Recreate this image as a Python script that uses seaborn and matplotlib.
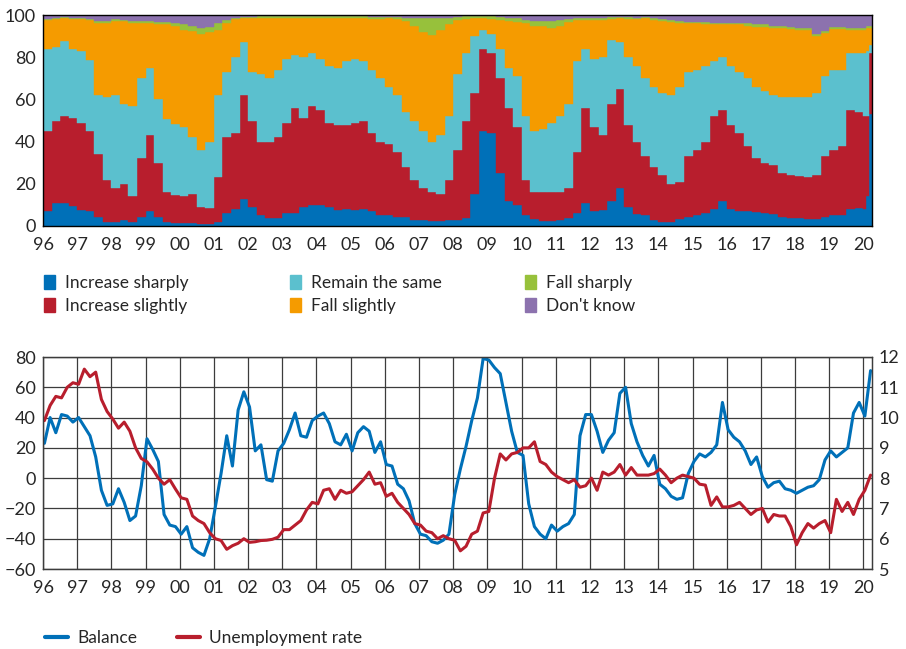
import numpy as np
import pandas as pd
import matplotlib
matplotlib.use("Agg")
import matplotlib.pyplot as plt
from matplotlib.patches import Patch
from matplotlib.lines import Line2D
import seaborn as sns

# ── data ──────────────────────────────────────────────────────────────────────
# Expected unemployment, share of answers in %
# quarterly 1996Q1-2019Q4, then monthly Jan-Mar 2020
increase_sharply = [
    7, 11, 11, 9.5, 7.5, 7, 4.5, 2, 2, 3, 2, 4.5, 7, 4.5, 2, 1.5,
    1.5, 1.5, 1, 1, 2, 6, 8, 13, 9, 5, 4, 4, 6, 6, 9, 10,
    10, 9, 7.5, 8, 7.5, 8, 7, 5, 5, 4.5, 4.5, 3, 3, 2.5, 2.5, 3,
    3, 4, 15, 45, 44, 25, 12, 10, 5, 3.5, 2.5, 2.5, 3, 4, 6, 11,
    7, 7.5, 12, 18, 9, 5.5, 5, 3, 2, 2, 3.5, 4.5, 5, 6, 8, 12,
    8, 7, 7, 6.5, 6, 5.5, 4.5, 4, 4, 3.5, 3.5, 4.5, 5, 5, 8, 8.5,
    8, 14, 53,
]
increase_slightly = [
    38, 39, 41, 41.5, 41.5, 38, 29.5, 20, 16, 17, 12, 27.5, 36, 25.5, 14, 13,
    12.5, 13.5, 8, 7.5, 21, 36, 36, 49, 41, 35, 36, 38, 43, 50, 42, 47,
    45, 40, 40.5, 40, 41.5, 42, 37, 35, 34, 30.5, 23.5, 19, 15, 13.5, 12.5, 19,
    33, 46, 48, 39, 38, 45, 44, 37, 17, 12.5, 13.5, 13.5, 13, 14, 29, 45,
    40, 35.5, 46, 47, 39, 34.5, 28, 25, 22, 18, 17.5, 28.5, 31, 34, 44, 43,
    40, 37, 31, 25.5, 24, 23.5, 20.5, 20, 19.5, 19.5, 20.5, 28.5, 31, 33, 47, 45.5,
    44, 38, 29,
]
remain_same = [
    39, 35, 35.5, 33, 34, 33.5, 28, 39, 44, 38, 43, 38, 32, 30, 34.5, 34,
    33, 27, 27, 31.5, 39, 31, 36, 25, 23, 32, 30, 32, 30, 25, 29, 25,
    24, 27, 27, 30, 30, 28, 30, 30, 27, 27, 26, 28, 27, 24, 28, 30,
    36, 32, 27, 9, 9, 14, 19, 24, 30, 29, 30, 33, 36, 40, 43, 28,
    32, 37, 30, 22, 32, 36, 37, 38, 39, 42, 45, 40, 38, 36, 26, 25,
    28, 29, 32, 34, 34, 33, 36, 37, 37.5, 38, 39, 38, 38, 36, 27, 28,
    30, 31, 4,
]
fall_slightly = [
    13.5, 13, 11, 14, 15, 19, 34, 35, 35, 39, 39, 26, 21, 35.5, 45, 46.5,
    46, 50.5, 55, 52, 31, 23, 18, 11.5, 25.5, 26.5, 28.7, 24.5, 19.5, 17.5, 18.5, 16.5,
    19.5, 22.5, 23.5, 20.5, 19.5, 20.5, 24, 28, 32.5, 36, 43, 45, 47, 50.5, 50, 43.5,
    25.5, 16, 8.5, 5.5, 7, 13.5, 22, 25.5, 44, 50, 48.8, 45, 43, 38.5, 19.5, 13.8,
    18.8, 17.8, 10.3, 11.5, 18, 22, 28.5, 31.5, 34, 34.5, 30, 23, 22, 19.8, 17.5, 15.5,
    19.5, 22.5, 25, 28.5, 30.5, 32, 33, 32.5, 32, 32, 27, 20.5, 19.5, 19.5, 11, 11,
    11, 11, 8,
]
fall_sharply = [
    0.5, 0.5, 0.5, 0.5, 0.5, 0.5, 1, 1, 1, 0.5, 1, 1, 1, 1, 1, 1,
    2.5, 2.5, 3, 2.5, 3, 1.5, 0.5, 0.5, 0.7, 0.8, 0.6, 0.8, 0.8, 0.8, 0.8, 0.8,
    0.8, 0.8, 0.8, 0.8, 0.8, 0.8, 1, 1, 0.5, 1, 1.7, 3.5, 6.5, 8, 5.5, 3.2,
    1.5, 1.3, 1, 1, 1.3, 1.5, 1.5, 2, 1.5, 2, 2.2, 3, 2.5, 1.5, 1, 0.7,
    0.7, 0.7, 0.7, 0.7, 1, 0.8, 0.5, 1, 1, 1, 1, 0.8, 0.5, 0.7, 0.7, 0.8,
    0.8, 0.8, 1, 1, 1, 1, 1, 1, 1, 1, 1, 1, 1, 1, 1, 1,
    1, 1, 1,
]
dont_know = [
    2, 1.5, 1, 1.5, 1.5, 2, 3, 3, 2, 2.5, 3, 3, 3, 3.5, 3.5, 4,
    4.5, 5, 6, 5.5, 4, 2.5, 1.5, 1, 0.8, 0.7, 0.7, 0.7, 0.7, 0.7, 0.7, 0.7,
    0.7, 0.7, 0.7, 0.7, 0.7, 0.7, 1, 1, 1, 1, 1.3, 1.5, 1.5, 1.5, 1.5, 1.3,
    1, 0.7, 0.5, 0.5, 0.7, 1, 1.5, 1.5, 2.5, 3, 3, 3, 2.5, 2, 1.5, 1.5,
    1.5, 1.5, 1, 0.8, 1, 1.2, 1, 1.5, 2, 2.5, 3, 3.2, 3.5, 3.5, 3.8, 3.7,
    3.7, 3.7, 4, 4.5, 4.5, 5, 5, 5.5, 6, 6, 9, 7.5, 5.5, 5.5, 6, 6,
    6, 5, 5,
]

# Balance (%) and unemployment rate (%), every second month Jan 1996 - Mar 2020
balance = [
    23, 40, 30, 42, 41, 37, 40, 34, 28, 14, -8, -18,
    -17, -7, -16, -28, -25, -5, 26, 19, 11, -24, -31, -32,
    -37, -32, -46, -49, -51, -40, -19, 3, 28, 8, 45, 57,
    47, 18, 22, -1, -2, 18, 23, 32, 43, 28, 27, 38,
    41, 43, 36, 24, 22, 29, 18, 30, 34, 31, 17, 24,
    9, 8, -4, -7, -15, -30, -37, -38, -42, -43, -41, -37,
    -11, 6, 21, 38, 53, 79, 78, 73, 69, 50, 31, 17,
    15, -17, -32, -37, -40, -31, -35, -32, -30, -24, 28, 42,
    42, 31, 17, 25, 30, 56, 60, 36, 24, 15, 8, 15,
    -4, -7, -12, -14, -13, 3, 11, 16, 14, 17, 22, 50,
    32, 27, 24, 18, 9, 14, 1, -6, -3, -2, -7, -8,
    -10, -8, -6, -5, -1, 12, 18, 14, 17, 20, 43, 50,
    41, 71,
]
unemployment = [
    9.9, 10.4, 10.7, 10.65, 11.0, 11.15, 11.1, 11.6, 11.35, 11.5, 10.6, 10.2,
    9.95, 9.65, 9.85, 9.55, 9.0, 8.65, 8.54, 8.3, 8.0, 7.8, 7.95, 7.64,
    7.35, 7.3, 6.75, 6.6, 6.5, 6.2, 6.0, 5.94, 5.65, 5.77, 5.85, 6.0,
    5.88, 5.9, 5.94, 5.95, 5.98, 6.05, 6.3, 6.3, 6.45, 6.6, 6.95, 7.2,
    7.15, 7.6, 7.65, 7.3, 7.6, 7.5, 7.55, 7.75, 7.95, 8.2, 7.8, 7.85,
    7.4, 7.5, 7.2, 7.0, 6.8, 6.5, 6.45, 6.25, 6.2, 6.0, 6.1, 6.0,
    5.95, 5.6, 5.75, 6.15, 6.25, 6.85, 6.9, 8.0, 8.8, 8.6, 8.8, 8.85,
    9.0, 9.0, 9.2, 8.55, 8.45, 8.2, 8.05, 7.95, 7.85, 7.95, 7.7, 7.75,
    8.0, 7.6, 8.2, 8.1, 8.2, 8.45, 8.1, 8.35, 8.1, 8.1, 8.1, 8.15,
    8.3, 8.1, 7.85, 8.0, 8.1, 8.05, 8.0, 7.8, 7.77, 7.1, 7.38, 7.05,
    7.05, 7.1, 7.2, 7.0, 6.8, 6.95, 7.0, 6.55, 6.8, 6.75, 6.75, 6.4,
    5.8, 6.2, 6.5, 6.35, 6.5, 6.6, 6.2, 7.3, 6.9, 7.2, 6.8, 7.3,
    7.6, 8.1,
]

year_labels = [f"{y % 100:02d}" for y in range(1996, 2021)]

CATEGORIES = [
    ("Increase sharply", increase_sharply, "#0070b8"),
    ("Increase slightly", increase_slightly, "#b81e2d"),
    ("Remain the same", remain_same, "#5bc0ce"),
    ("Fall slightly", fall_slightly, "#f59b00"),
    ("Fall sharply", fall_sharply, "#97c13b"),
    ("Don't know", dont_know, "#8c72ae"),
]
BLUE = "#0070b8"
RED = "#b81e2d"
GRID = "#3c3c3c"
TICK_SIZE = 13
LEGEND_SIZE = 12.5

sns.set_style("white")
plt.rcParams["font.family"] = ["Lato", "DejaVu Sans"]
plt.rcParams["font.size"] = TICK_SIZE


def to_year(t):
    return t.year + (t.month - 1) / 12


# period starts for the stacked bars
starts = list(pd.period_range("1996Q1", "2019Q4", freq="Q").to_timestamp())
starts += list(pd.date_range("2020-01-01", "2020-03-01", freq="MS"))
bar_x = np.array([to_year(t) for t in starts])
bar_w = np.diff(np.append(bar_x, 2020.25))

line_t = pd.date_range("1996-01-01", "2020-03-01", freq="2MS")
line_x = np.array([to_year(t) + 1 / 24 for t in line_t])

years = np.arange(1996, 2021)
W, H = 906, 649
fig = plt.figure(figsize=(W / 100, H / 100), dpi=100)

# ── top panel: stacked survey shares ──────────────────────────────────────────
ax = fig.add_axes([43 / W, 1 - 226 / H, 829 / W, 211 / H])
bottom = np.zeros(len(bar_x))
for name, vals, color in CATEGORIES:
    vals = np.array(vals, dtype=float)
    ax.bar(bar_x, vals, width=bar_w, bottom=bottom, align="edge",
           color=color, edgecolor=color, linewidth=0.3)
    bottom += vals
ax.set_xlim(1996, 2020.25)
ax.set_ylim(0, 100)
ax.set_yticks(range(0, 101, 20))
ax.set_xticks(years)
ax.set_xticklabels(year_labels)
ax.tick_params(axis="x", length=0, pad=8, labelsize=TICK_SIZE)
ax.tick_params(axis="y", length=0, pad=5, labelsize=TICK_SIZE)
for sp in ax.spines.values():
    sp.set_color("black")
    sp.set_linewidth(1.0)

legend_cols = [(44, CATEGORIES[0:2]), (290, CATEGORIES[2:4]), (525, CATEGORIES[4:6])]
for x0, items in legend_cols:
    fig.legend(handles=[Patch(color=c) for _, _, c in items],
               labels=[n for n, _, _ in items],
               loc="upper left", bbox_to_anchor=(x0 / W, 1 - 275 / H),
               frameon=False, handlelength=0.65, handleheight=0.85,
               handletextpad=0.55, labelspacing=0.42, borderpad=0,
               borderaxespad=0, fontsize=LEGEND_SIZE)

# ── bottom panel: balance vs unemployment rate ────────────────────────────────
bx = fig.add_axes([43 / W, 1 - 569 / H, 829 / W, 212 / H])
sns.lineplot(x=line_x, y=balance, ax=bx, color=BLUE, linewidth=2.2)
bx.set_xlim(1996, 2020.25)
bx.set_ylim(-60, 80)
bx.set_yticks(range(-60, 81, 20))
bx.set_xticks(years)
bx.set_xticklabels(year_labels)
bx.grid(True, color=GRID, linewidth=0.9)
bx.tick_params(axis="x", length=0, pad=8, labelsize=TICK_SIZE)
bx.tick_params(axis="y", length=0, pad=5, labelsize=TICK_SIZE)
bx.set_xlabel("")
bx.set_ylabel("")

bx2 = bx.twinx()
sns.lineplot(x=line_x, y=unemployment, ax=bx2, color=RED, linewidth=2.2)
bx2.set_ylim(5, 12)
bx2.set_yticks(range(5, 13))
bx2.tick_params(axis="y", length=0, pad=5, labelsize=TICK_SIZE)
bx2.set_ylabel("")
bx2.grid(False)
for a in (bx, bx2):
    for sp in a.spines.values():
        sp.set_color(GRID)
        sp.set_linewidth(0.9)

for x0, label, color in [(45, "Balance", BLUE), (177, "Unemployment rate", RED)]:
    fig.legend(handles=[Line2D([], [], color=color, linewidth=3)], labels=[label],
               loc="upper left", bbox_to_anchor=(x0 / W, 1 - 630 / H),
               frameon=False, handlelength=1.3, handletextpad=0.55,
               borderpad=0, borderaxespad=0, fontsize=LEGEND_SIZE)

fig.savefig("out.png", dpi=100)
plt.close(fig)
